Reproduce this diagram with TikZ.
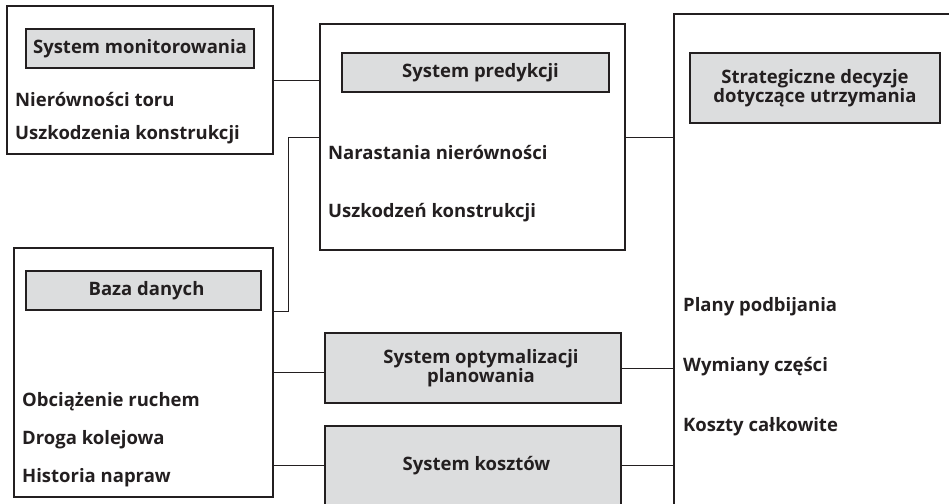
\documentclass[tikz,border=0pt]{standalone}
\usepackage{fontspec}
\setmainfont{Open Sans}
\usepackage{xcolor}
\usepackage{tikz}
\usetikzlibrary{positioning}
\definecolor{ink}{HTML}{231F20}
\definecolor{boxgray}{HTML}{DCDDDE}

\begin{document}
\begin{tikzpicture}[x=1pt, y=-1pt, node distance=36pt,
    every node/.style={font=\fontsize{18.5}{18.5}\selectfont\bfseries, text=ink},
    outer/.style={draw=ink, line width=2pt, inner sep=0pt},
    title/.style={draw=ink, fill=boxgray, line width=2pt, inner sep=0pt, align=center},
    item/.style={inner sep=0pt, anchor=west},
    link/.style={draw=ink, line width=1pt}]
        \useasboundingbox (0,0) rectangle (949,503);
        \clip (0,0) rectangle (949,503);

        \node[outer, minimum width=266pt, minimum height=148pt] (M) at (140,80) {};
        \node[title, minimum width=228pt, minimum height=39pt] (Mt) at (140,48.5) {System monitorowania};
        \node[item] (M1) at (15,100) {Nierówności toru};
        \node[below=35pt of M1.west, item] (M2) {Uszkodzenia konstrukcji};

        \node[outer, minimum width=305pt, minimum height=226pt] (P) at (472.5,137) {};
        \node[title, minimum width=267pt, minimum height=39pt] (Pt) at (475.5,72.5) {\hspace*{10pt}System predykcji};
        \node[item] (P1) at (328,153) {Narastania nierówności};
        \node[below=60pt of P1.west, item] (P2) {Uszkodzeń konstrukcji};

        \node[outer, minimum width=259pt, minimum height=249pt] (B) at (143.5,372.5) {};
        \node[title, minimum width=235pt, minimum height=39pt] (Bt) at (143.5,290.5) {\hspace*{6pt}Baza danych};
        \node[item] (B1) at (22,402) {Obciążenie ruchem};
        \node[below=38pt of B1.west, item] (B2) {Droga kolejowa};
        \node[below=38pt of B2.west, item] (B3) {Historia napraw};

        \node[outer, minimum width=286pt, minimum height=506pt] (D) at (817,267) {};
        \node[title, minimum width=250pt, minimum height=70pt] (Dt) at (815,88) {Strategiczne decyzje\\dotyczące utrzymania};
        \node[item] (D1) at (683,307) {Plany podbijania};
        \node[below=60pt of D1.west, item] (D2) {Wymiany części};
        \node[below=60pt of D2.west, item] (D3) {Koszty całkowite};

        \node[title, minimum width=296pt, minimum height=70pt] (O) at (473,368) {\hspace*{16pt}System optymalizacji\\\hspace*{16pt}planowania};
        \node[title, minimum width=296pt, minimum height=79pt] (K) at (473,465.5) {\hspace*{7pt}System kosztów};

        \path[link]
          (M.east) -- (M.east -| P.west)
          (P.east) -- (P.east -| D.west)
          (P.west) -- ++(-31,0) |- (Bt.south -| B.east)
          (B.east) -- (B.east -| O.west)
          (O.east) -- (O.east -| D.west)
          (K.west) -- (K.west -| B.east)
          (K.east) -- (K.east -| D.west);
  \end{tikzpicture}
\end{document}
